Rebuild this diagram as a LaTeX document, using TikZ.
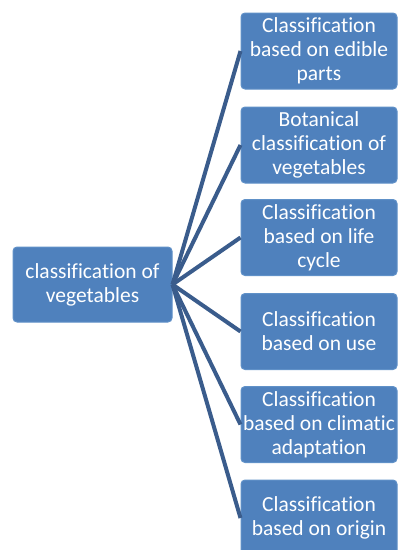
\documentclass[tikz,border=0pt]{standalone}
\usepackage{fontspec}
\setmainfont[Ligatures={NoCommon}]{Carlito}
\begin{document}
\begin{tikzpicture}[x=1pt,y=-1pt,
  catbox/.style={draw=boxedge, fill=boxfill, rounded corners=4pt, line width=1pt,
    text=white, align=center, inner sep=0pt,
    font=\fontsize{21.5}{24}\selectfont},
  rootbox/.style={catbox, minimum width=159pt, minimum height=75pt},
  leafbox/.style={catbox, minimum width=156pt, minimum height=76pt},
  link/.style={draw=linkblue, line width=4pt}
]
\definecolor{boxfill}{RGB}{79,129,189}
\definecolor{boxedge}{RGB}{96,145,200}
\definecolor{linkblue}{RGB}{58,92,140}
\useasboundingbox (0,0) rectangle (398,550);
\fill[white] (0,0) rectangle (398,550);

% root
\node[rootbox] (root) at (92.5,284.5) {classification of\\vegetables};

% branches
\node[leafbox] (c1) at (319,51)    {Classification\\based on edible\\parts};
\node[leafbox] (c2) at (319,145)   {Botanical\\classification of\\vegetables};
\node[leafbox] (c3) at (319,237.5) {Classification\\based on life\\cycle};
\node[leafbox] (c4) at (319,331.5) {Classification\\based on use};
\node[leafbox] (c5) at (319,424.5) {Classification\\based on climatic\\adaptation};
\node[leafbox] (c6) at (319,518)   {Classification\\based on origin};

% connectors
\foreach \c in {c1,c2,c3,c4,c5,c6}
  \draw[link] (root.east) -- (\c.west);
\end{tikzpicture}
\end{document}
